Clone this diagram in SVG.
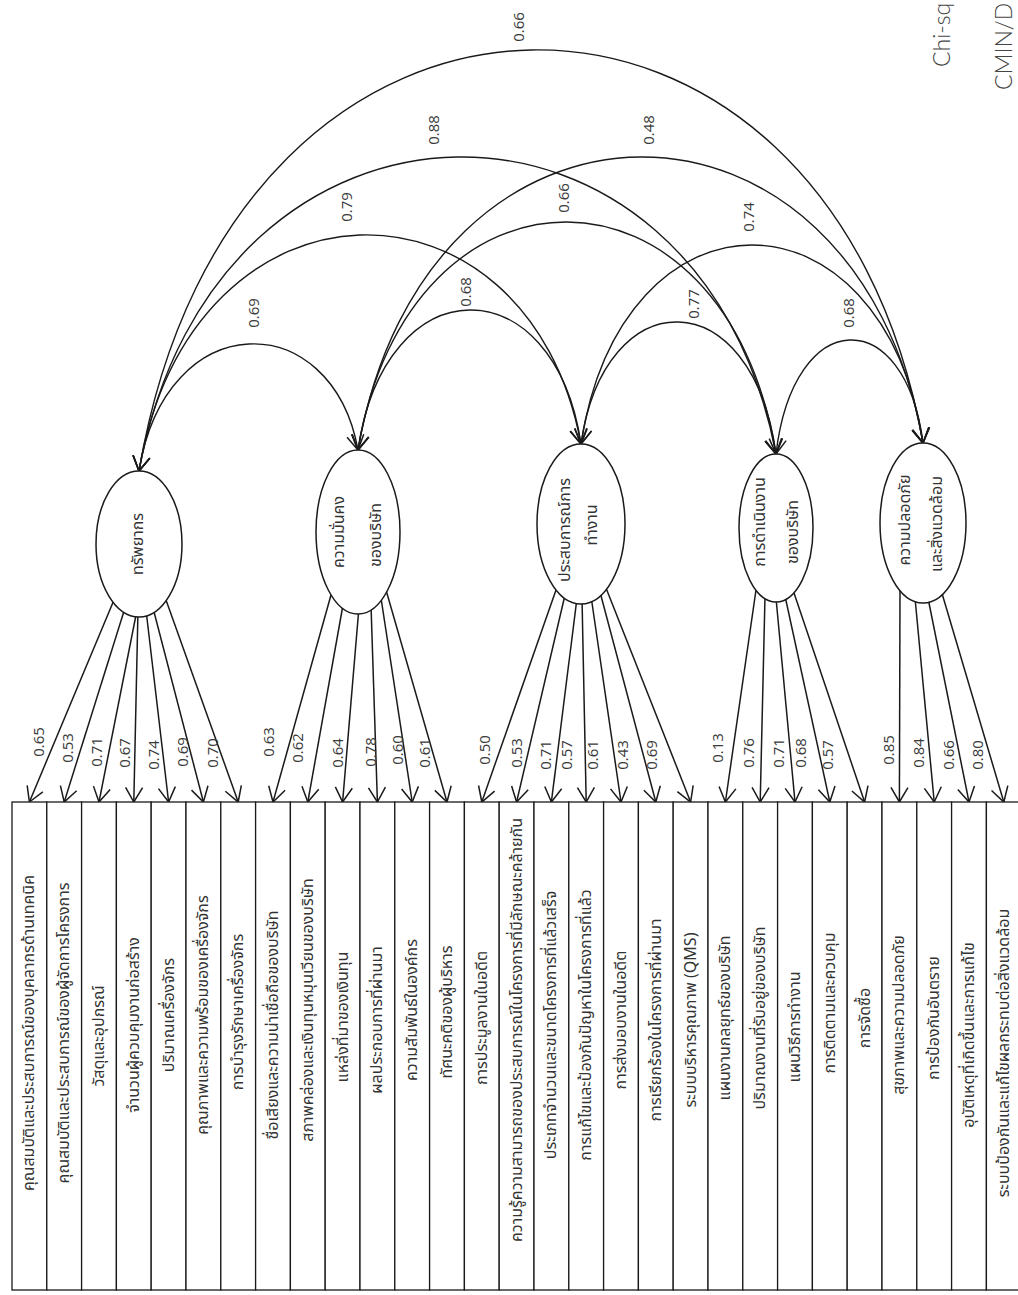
<svg xmlns="http://www.w3.org/2000/svg" width="1018" height="1295" viewBox="0 0 1018 1295">
  <defs>
    <marker id="head" viewBox="0 0 18 20" refX="16" refY="10" markerWidth="18" markerHeight="20" markerUnits="userSpaceOnUse" orient="auto-start-reverse">
      <path d="M1.5,1.5 L16,10 L1.5,18.5" fill="none" stroke="#1a1a1a" stroke-width="1.5"/>
    </marker>
    <style>
      .ld { fill: none; stroke: #1a1a1a; stroke-width: 1.5; marker-end: url(#head); }
      .cv { fill: none; stroke: #1a1a1a; stroke-width: 1.4; marker-start: url(#head); marker-end: url(#head); }
      .lat { fill: #fff; stroke: #1a1a1a; stroke-width: 1.5; }
      .box { fill: #fff; stroke: #1a1a1a; stroke-width: 1.3; }
      .th { font-family: "Noto Sans Thai", "Noto Sans", "DejaVu Sans", sans-serif; font-size: 16px; fill: #333; text-anchor: middle; dominant-baseline: central; }
      .num { font-family: "Open Sans", "Liberation Sans", sans-serif; font-size: 15px; fill: #3a3a3a; text-anchor: middle; dominant-baseline: central; }
      .fit { font-family: Lato, "Open Sans", sans-serif; font-size: 23px; font-weight: 300; fill: #444; }
    </style>
  </defs>

  <!-- correlations between the latent factors -->
  <g id="connectors">
    <path class="cv" d="M139,471 C165.3,305.2 331.7,305.2 358,450"/>
    <path class="cv" d="M139,471 C192,160.8 528,160.8 581,444"/>
    <path class="cv" d="M139,471 C215.4,55.2 699.6,55.2 776,454"/>
    <path class="cv" d="M139,471 C233,-85.7 829,-85.7 923,443"/>
    <path class="cv" d="M358,450 C384.8,264.3 554.2,264.3 581,444"/>
    <path class="cv" d="M358,450 C408.2,145.3 725.8,145.3 776,454"/>
    <path class="cv" d="M358,450 C425.8,60.5 855.2,60.5 923,443"/>
    <path class="cv" d="M581,444 C604.4,279.7 752.6,279.7 776,454"/>
    <path class="cv" d="M581,444 C622,178.8 882,178.8 923,443"/>
    <path class="cv" d="M776,454 C793.6,303.9 905.4,303.9 923,443"/>

    <!-- factor loadings: factor to indicator -->
    <path class="ld" d="M114,600 L29.4,802"/>
    <path class="ld" d="M125,608 L64.2,802"/>
    <path class="ld" d="M137,610 L99,802"/>
    <path class="ld" d="M138,610 L133.8,802"/>
    <path class="ld" d="M146,610 L168.6,802"/>
    <path class="ld" d="M153,608 L203.4,802"/>
    <path class="ld" d="M166,600 L238.2,802"/>

    <path class="ld" d="M331,595 L273,802"/>
    <path class="ld" d="M343,605 L307.8,802"/>
    <path class="ld" d="M359,607 L342.6,802"/>
    <path class="ld" d="M371,605 L377.4,802"/>
    <path class="ld" d="M381,598 L412.2,802"/>
    <path class="ld" d="M386,590 L447,802"/>

    <path class="ld" d="M556,590 L481.8,802"/>
    <path class="ld" d="M565,595 L516.6,802"/>
    <path class="ld" d="M577,598 L551.4,802"/>
    <path class="ld" d="M582,598 L586.2,802"/>
    <path class="ld" d="M591,596 L621,802"/>
    <path class="ld" d="M600,592 L655.8,802"/>
    <path class="ld" d="M606,588 L690.6,802"/>

    <path class="ld" d="M756,590 L725.4,802"/>
    <path class="ld" d="M765,596 L760.2,802"/>
    <path class="ld" d="M776,598 L795,802"/>
    <path class="ld" d="M785,596 L829.8,802"/>
    <path class="ld" d="M793,590 L864.6,802"/>

    <path class="ld" d="M900,590 L899.4,802"/>
    <path class="ld" d="M915,598 L934.2,802"/>
    <path class="ld" d="M928,598 L969,802"/>
    <path class="ld" d="M941,590 L1003.8,802"/>
  </g>

  <!-- correlation values -->
  <g id="correlation-labels" class="num">
    <text transform="translate(518,27) rotate(-90)">0.66</text>
    <text transform="translate(433,130) rotate(-90)">0.88</text>
    <text transform="translate(648,130) rotate(-90)">0.48</text>
    <text transform="translate(346,207) rotate(-90)">0.79</text>
    <text transform="translate(563,198) rotate(-90)">0.66</text>
    <text transform="translate(748,217) rotate(-90)">0.74</text>
    <text transform="translate(253,313) rotate(-90)">0.69</text>
    <text transform="translate(465,292) rotate(-90)">0.68</text>
    <text transform="translate(693,304) rotate(-90)">0.77</text>
    <text transform="translate(848,313) rotate(-90)">0.68</text>
  </g>

  <!-- loading values -->
  <g id="loading-labels" class="num">
    <text transform="translate(38,742) rotate(-90)">0.65</text>
    <text transform="translate(67,748) rotate(-90)">0.53</text>
    <text transform="translate(96,752) rotate(-90)">0.71</text>
    <text transform="translate(124,753) rotate(-90)">0.67</text>
    <text transform="translate(153,755) rotate(-90)">0.74</text>
    <text transform="translate(182,752) rotate(-90)">0.69</text>
    <text transform="translate(212,753) rotate(-90)">0.70</text>
    <text transform="translate(268,742) rotate(-90)">0.63</text>
    <text transform="translate(297,748) rotate(-90)">0.62</text>
    <text transform="translate(337,753) rotate(-90)">0.64</text>
    <text transform="translate(370,752) rotate(-90)">0.78</text>
    <text transform="translate(397,750) rotate(-90)">0.60</text>
    <text transform="translate(424,753) rotate(-90)">0.61</text>
    <text transform="translate(484,750) rotate(-90)">0.50</text>
    <text transform="translate(516,753) rotate(-90)">0.53</text>
    <text transform="translate(545,755) rotate(-90)">0.71</text>
    <text transform="translate(566,755) rotate(-90)">0.57</text>
    <text transform="translate(592,755) rotate(-90)">0.61</text>
    <text transform="translate(622,755) rotate(-90)">0.43</text>
    <text transform="translate(651,755) rotate(-90)">0.69</text>
    <text transform="translate(717,748) rotate(-90)">0.13</text>
    <text transform="translate(748,753) rotate(-90)">0.76</text>
    <text transform="translate(778,753) rotate(-90)">0.71</text>
    <text transform="translate(800,753) rotate(-90)">0.68</text>
    <text transform="translate(827,755) rotate(-90)">0.57</text>
    <text transform="translate(888,750) rotate(-90)">0.85</text>
    <text transform="translate(918,753) rotate(-90)">0.84</text>
    <text transform="translate(948,755) rotate(-90)">0.66</text>
    <text transform="translate(977,755) rotate(-90)">0.80</text>
  </g>

  <!-- latent factors -->
  <g id="f-resources">
    <ellipse class="lat" cx="139" cy="544" rx="43" ry="73"/>
    <text class="th" transform="translate(138,544) rotate(-90)">ทรัพยากร</text>
  </g>
  <g id="f-stability">
    <ellipse class="lat" cx="358" cy="532" rx="42" ry="82"/>
    <text class="th" transform="translate(339,532) rotate(-90)">ความมั่นคง</text>
    <text class="th" transform="translate(376,535) rotate(-90)">ของบริษัท</text>
  </g>
  <g id="f-experience">
    <ellipse class="lat" cx="581" cy="524" rx="44" ry="80"/>
    <text class="th" transform="translate(565,530) rotate(-90)">ประสบการณ์การ</text>
    <text class="th" transform="translate(592,525) rotate(-90)">ทำงาน</text>
  </g>
  <g id="f-operation">
    <ellipse class="lat" cx="776" cy="528" rx="37" ry="74"/>
    <text class="th" transform="translate(760,522) rotate(-90)">การดำเนินงาน</text>
    <text class="th" transform="translate(793,532) rotate(-90)">ของบริษัท</text>
  </g>
  <g id="f-safety">
    <ellipse class="lat" cx="923" cy="523" rx="43" ry="80"/>
    <text class="th" transform="translate(905,520) rotate(-90)">ความปลอดภัย</text>
    <text class="th" transform="translate(937,524) rotate(-90)">และสิ่งแวดล้อม</text>
  </g>

  <!-- observed indicators -->
  <g id="i01"><rect class="box" x="12" y="802" width="34.8" height="488"/><text class="th" transform="translate(29.4,1033) rotate(-90)">คุณสมบัติและประสบการณ์ของบุคลากรด้านเทคนิค</text></g>
  <g id="i02"><rect class="box" x="46.8" y="802" width="34.8" height="488"/><text class="th" transform="translate(64.2,1033) rotate(-90)">คุณสมบัติและประสบการณ์ของผู้จัดการโครงการ</text></g>
  <g id="i03"><rect class="box" x="81.6" y="802" width="34.8" height="488"/><text class="th" transform="translate(99,1036) rotate(-90)">วัสดุและอุปกรณ์</text></g>
  <g id="i04"><rect class="box" x="116.4" y="802" width="34.8" height="488"/><text class="th" transform="translate(133.8,1025) rotate(-90)">จำนวนผู้ควบคุมงานก่อสร้าง</text></g>
  <g id="i05"><rect class="box" x="151.2" y="802" width="34.8" height="488"/><text class="th" transform="translate(168.6,1015) rotate(-90)">ปริมาณเครื่องจักร</text></g>
  <g id="i06"><rect class="box" x="186" y="802" width="34.8" height="488"/><text class="th" transform="translate(203.4,1015) rotate(-90)">คุณภาพและความพร้อมของเครื่องจักร</text></g>
  <g id="i07"><rect class="box" x="220.8" y="802" width="34.8" height="488"/><text class="th" transform="translate(238.2,1012) rotate(-90)">การบำรุงรักษาเครื่องจักร</text></g>
  <g id="i08"><rect class="box" x="255.6" y="802" width="34.8" height="488"/><text class="th" transform="translate(273,1025) rotate(-90)">ชื่อเสียงและความน่าเชื่อถือของบริษัท</text></g>
  <g id="i09"><rect class="box" x="290.4" y="802" width="34.8" height="488"/><text class="th" transform="translate(307.8,1010) rotate(-90)">สภาพคล่องและเงินทุนหมุนเวียนของบริษัท</text></g>
  <g id="i10"><rect class="box" x="325.2" y="802" width="34.8" height="488"/><text class="th" transform="translate(342.6,1017) rotate(-90)">แหล่งที่มาของเงินทุน</text></g>
  <g id="i11"><rect class="box" x="360" y="802" width="34.8" height="488"/><text class="th" transform="translate(377.4,1020) rotate(-90)">ผลประกอบการที่ผ่านมา</text></g>
  <g id="i12"><rect class="box" x="394.8" y="802" width="34.8" height="488"/><text class="th" transform="translate(412.2,1010) rotate(-90)">ความสัมพันธ์ในองค์กร</text></g>
  <g id="i13"><rect class="box" x="429.6" y="802" width="34.8" height="488"/><text class="th" transform="translate(447,1012) rotate(-90)">ทัศนะคติของผู้บริหาร</text></g>
  <g id="i14"><rect class="box" x="464.4" y="802" width="34.8" height="488"/><text class="th" transform="translate(481.8,1018) rotate(-90)">การประมูลงานในอดีต</text></g>
  <g id="i15"><rect class="box" x="499.2" y="802" width="34.8" height="488"/><text class="th" transform="translate(516.6,1030) rotate(-90)">ความรู้ความสามารถของประสบการณ์ในโครงการที่มีลักษณะคล้ายกัน</text></g>
  <g id="i16"><rect class="box" x="534" y="802" width="34.8" height="488"/><text class="th" transform="translate(551.4,1025) rotate(-90)">ประเภทจำนวนและขนาดโครงการที่แล้วเสร็จ</text></g>
  <g id="i17"><rect class="box" x="568.8" y="802" width="34.8" height="488"/><text class="th" transform="translate(586.2,1025) rotate(-90)">การแก้ไขและป้องกันปัญหาในโครงการที่แล้ว</text></g>
  <g id="i18"><rect class="box" x="603.6" y="802" width="34.8" height="488"/><text class="th" transform="translate(621,1020) rotate(-90)">การส่งมอบงานในอดีต</text></g>
  <g id="i19"><rect class="box" x="638.4" y="802" width="34.8" height="488"/><text class="th" transform="translate(655.8,1020) rotate(-90)">การเรียกร้องในโครงการที่ผ่านมา</text></g>
  <g id="i20"><rect class="box" x="673.2" y="802" width="34.8" height="488"/><text class="th" transform="translate(690.6,1020) rotate(-90)">ระบบบริหารคุณภาพ (QMS)</text></g>
  <g id="i21"><rect class="box" x="708" y="802" width="34.8" height="488"/><text class="th" transform="translate(725.4,1018) rotate(-90)">แผนงานกลยุทธ์ของบริษัท</text></g>
  <g id="i22"><rect class="box" x="742.8" y="802" width="34.8" height="488"/><text class="th" transform="translate(760.2,1018) rotate(-90)">ปริมาณงานที่รับอยู่ของบริษัท</text></g>
  <g id="i23"><rect class="box" x="777.6" y="802" width="34.8" height="488"/><text class="th" transform="translate(795,1027) rotate(-90)">แผนวิธีการทำงาน</text></g>
  <g id="i24"><rect class="box" x="812.4" y="802" width="34.8" height="488"/><text class="th" transform="translate(829.8,1003) rotate(-90)">การติดตามและควบคุม</text></g>
  <g id="i25"><rect class="box" x="847.2" y="802" width="34.8" height="488"/><text class="th" transform="translate(864.6,1018) rotate(-90)">การจัดซื้อ</text></g>
  <g id="i26"><rect class="box" x="882" y="802" width="34.8" height="488"/><text class="th" transform="translate(899.4,1015) rotate(-90)">สุขภาพและความปลอดภัย</text></g>
  <g id="i27"><rect class="box" x="916.8" y="802" width="34.8" height="488"/><text class="th" transform="translate(934.2,1018) rotate(-90)">การป้องกันอันตราย</text></g>
  <g id="i28"><rect class="box" x="951.6" y="802" width="34.8" height="488"/><text class="th" transform="translate(969,1035) rotate(-90)">อุบัติเหตุที่เกิดขึ้นและการแก้ไข</text></g>
  <g id="i29"><rect class="box" x="986.4" y="802" width="34.8" height="488"/><text class="th" transform="translate(1003.8,1053) rotate(-90)">ระบบป้องกันและแก้ไขผลกระทบต่อสิ่งแวดล้อม</text></g>

  <!-- model fit statistics -->
  <g id="fit-stats">
    <text class="fit" transform="translate(950,67) rotate(-90)">Chi-sq</text>
    <text class="fit" transform="translate(1012,90) rotate(-90)">CMIN/D</text>
  </g>
</svg>
